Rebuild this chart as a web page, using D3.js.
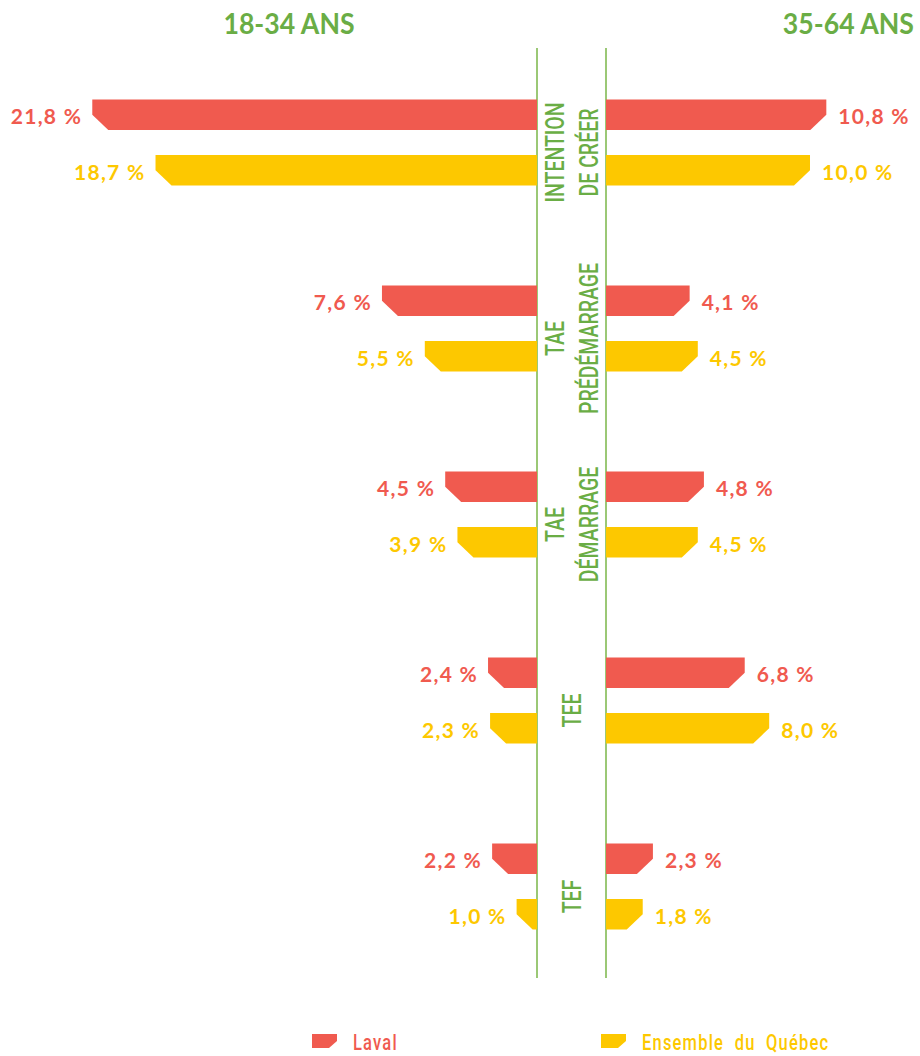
<!DOCTYPE html>
<html lang="fr">
<head>
<meta charset="utf-8">
<script src="https://cdn.jsdelivr.net/npm/d3@7"></script>
<style>
  html, body { margin: 0; padding: 0; background: #ffffff; }
  svg { display: block; }
</style>
</head>
<body>
<svg id="chart" width="920" height="1056"></svg>
<script>
// Indicateurs entrepreneuriaux par groupe d'âge — Laval vs ensemble du Québec
const categoryLines = [
  ["INTENTION", "DE CRÉER"],
  ["TAE", "PRÉDÉMARRAGE"],
  ["TAE", "DÉMARRAGE"],
  ["TEE"],
  ["TEF"]
];
const series = ["Laval", "Ensemble du Québec"];
const ageGroups = ["18-34 ANS", "35-64 ANS"];

// 18-34 ans (%)
const youngLaval  = [21.8, 7.6, 4.5, 2.4, 2.2];
const youngQuebec = [18.7, 5.5, 3.9, 2.3, 1.0];
// 35-64 ans (%)
const olderLaval  = [10.8, 4.1, 4.8, 6.8, 2.3];
const olderQuebec = [10.0, 4.5, 4.5, 8.0, 1.8];

const RED = "#f05a4f", YELLOW = "#fdc800", GREEN = "#6aad45", LINE_GREEN = "#7ab648";
const colors = d3.scaleOrdinal().domain(series).range([RED, YELLOW]);

const svg = d3.select("#chart");

const catKeys = categoryLines.map(l => l.join(" "));
const leftAxisX = 537, rightAxisX = 606, pxPerPct = 20.4;

// Vertical layout: one band per indicator, two bars inside each band
const y0 = d3.scaleBand().domain(catKeys).range([99.5, 929.5]).paddingInner(100 / 186).paddingOuter(0);
const y1 = d3.scaleBand().domain(series).range([0, y0.bandwidth()]).paddingInner(25 / 55.5).paddingOuter(0);

// Horizontal scales: left half grows leftward, right half grows rightward
const xL = d3.scaleLinear().domain([0, 1]).range([leftAxisX, leftAxisX - pxPerPct]);
const xR = d3.scaleLinear().domain([0, 1]).range([rightAxisX, rightAxisX + pxPerPct]);

const fmt = v => d3.format(".1f")(v).replace(".", ",") + " %";

// Rows of data
const rows = [];
catKeys.forEach((c, i) => {
  rows.push({ cat: c, s: series[0], side: "L", v: youngLaval[i] });
  rows.push({ cat: c, s: series[1], side: "L", v: youngQuebec[i] });
  rows.push({ cat: c, s: series[0], side: "R", v: olderLaval[i] });
  rows.push({ cat: c, s: series[1], side: "R", v: olderQuebec[i] });
});

// Bar with its outer bottom corner cut off
function barPath(d) {
  const top = y0(d.cat) + y1(d.s);
  const h = y1.bandwidth();
  const bot = top + h;
  const cut = 16;
  if (d.side === "L") {
    const inner = xL(0), outer = xL(d.v);
    const c = Math.min(cut, inner - outer);
    return `M${inner},${top}L${outer},${top}L${outer},${top + h / 2}L${outer + c},${bot}L${inner},${bot}Z`;
  } else {
    const inner = xR(0), outer = xR(d.v);
    const c = Math.min(cut, outer - inner);
    return `M${inner},${top}L${outer},${top}L${outer},${top + h / 2}L${outer - c},${bot}L${inner},${bot}Z`;
  }
}

// Central guide lines
svg.append("g").selectAll("line")
  .data([leftAxisX, rightAxisX])
  .join("line")
  .attr("x1", d => d).attr("x2", d => d)
  .attr("y1", 48).attr("y2", 978)
  .attr("stroke", LINE_GREEN).attr("stroke-width", 1.5);

// Bars
svg.append("g").selectAll("path")
  .data(rows)
  .join("path")
  .attr("d", barPath)
  .attr("fill", d => colors(d.s));

// Value labels
svg.append("g").selectAll("text")
  .data(rows)
  .join("text")
  .attr("x", d => d.side === "L" ? xL(d.v) - 10 : xR(d.v) + 12)
  .attr("y", d => y0(d.cat) + y1(d.s) + 24.5)
  .attr("text-anchor", d => d.side === "L" ? "end" : "start")
  .attr("fill", d => colors(d.s))
  .style("font-family", "Lato, 'Open Sans', sans-serif")
  .style("font-weight", 700)
  .style("font-size", "21px")
  .style("letter-spacing", "1.3px")
  .text(d => fmt(d.v));

// Indicator names, rotated between the two guide lines
const catFont = 26.5, capH = catFont * 0.711, lineGap = 34.5;
const midX = (leftAxisX + rightAxisX) / 2;
const catG = svg.append("g");
categoryLines.forEach((lines, i) => {
  const yc = y0(catKeys[i]) + y0.bandwidth() / 2 + 10;
  lines.forEach((txt, j) => {
    const capCenter = midX + (j - (lines.length - 1) / 2) * lineGap;
    catG.append("text")
      .attr("transform", `translate(${capCenter + capH / 2},${yc}) rotate(-90) scale(0.735,1)`)
      .attr("text-anchor", "middle")
      .attr("fill", GREEN)
      .style("font-family", "Roboto, sans-serif")
      .style("font-weight", 500)
      .style("font-size", catFont + "px")
      .text(txt);
  });
});

// Age-group headers
svg.append("g").selectAll("text")
  .data(ageGroups)
  .join("text")
  .attr("transform", (d, i) => `translate(${i === 0 ? 289 : 914},34.3) scale(0.92,1)`)
  .attr("text-anchor", (d, i) => i === 0 ? "middle" : "end")
  .attr("fill", GREEN)
  .style("font-family", "Lato, sans-serif")
  .style("font-weight", 700)
  .style("font-size", "29px")
  .text(d => d);

// Legend
const legendX = [312, 601];
const lg = svg.append("g").selectAll("g")
  .data(series)
  .join("g")
  .attr("transform", (d, i) => `translate(${legendX[i]},1034)`);
lg.append("path")
  .attr("d", "M0,0L25,0L25,7L17,14L0,14Z")
  .attr("fill", d => colors(d));
lg.append("text")
  .attr("transform", "translate(41,15.5) scale(0.75,1)")
  .attr("fill", d => colors(d))
  .style("font-family", "Roboto, sans-serif")
  .style("font-weight", 500)
  .style("font-size", "22px")
  .style("letter-spacing", "1.6px")
  .style("word-spacing", "7px")
  .text(d => d);
</script>
</body>
</html>
